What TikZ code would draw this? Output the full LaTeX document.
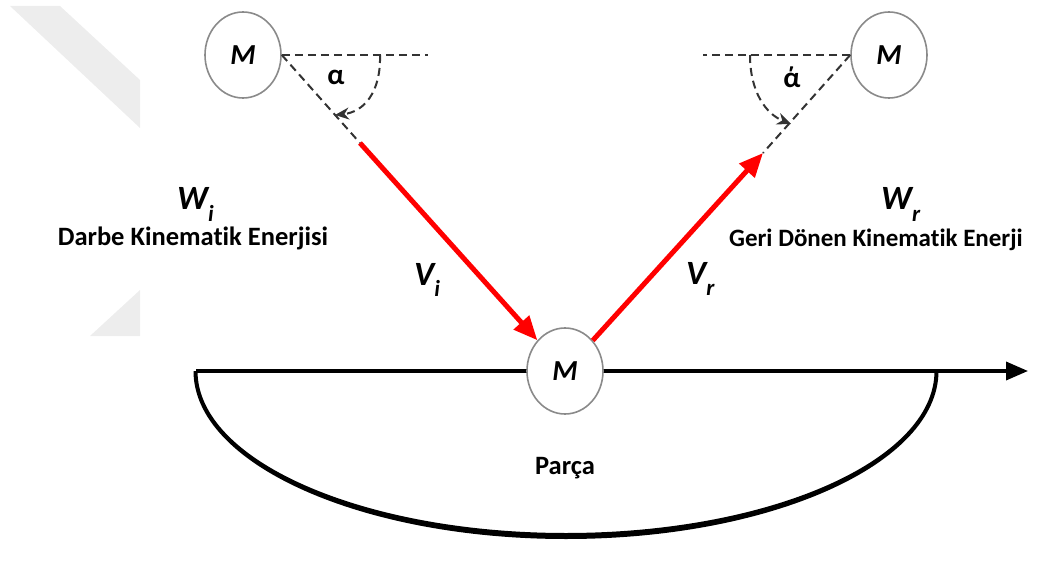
\documentclass[tikz,border=0pt]{standalone}
\usepackage{fontspec}
\setmainfont{Carlito}[Ligatures=NoCommon]
\usetikzlibrary{arrows.meta,shapes.geometric}
\definecolor{wm}{HTML}{EDEDED}
\definecolor{dashc}{HTML}{333333}
\definecolor{ringc}{HTML}{8A8A8A}
\tikzset{
  mass/.style={ellipse,draw=ringc,line width=1.6pt,fill=white,minimum width=76pt,minimum height=86pt,inner sep=0pt,
    font=\fontsize{29}{29}\selectfont\bfseries\itshape},
  guide/.style={draw=dashc,line width=2pt,dash pattern=on 8pt off 5pt},
  anglearr/.style={guide,-{Stealth[length=14pt,width=12pt]}},
  vel/.style={draw=red,line width=5pt,-{Triangle[length=24pt,width=20pt]}},
  axis/.style={draw=black,line width=3.5pt,-{Triangle[length=22pt,width=18pt]}},
  bowl/.style={fill=black},
  sym/.style={font=\fontsize{34}{34}\selectfont\bfseries\itshape,inner sep=0pt},
  lbl/.style={font=\fontsize{26.5}{28}\selectfont\bfseries,inner sep=0pt},
  ang/.style={font=\fontsize{29}{29}\selectfont\bfseries,inner sep=0pt}
}
\newcommand{\sbs}[1]{\raisebox{-0.35em}{\fontsize{23}{23}\selectfont #1}}
\begin{document}
\begin{tikzpicture}[x=1pt,y=-1pt]
\useasboundingbox (0,0) rectangle (1043,585);
% faint watermark
\fill[wm] (10,6) -- (60,6) -- (140,80) -- (140,128) -- cycle;
\fill[wm] (90,336) -- (140,290) -- (140,336) -- cycle;
% axis and bowl
\coordinate (axL) at (196,371);
\coordinate (axR) at (1028,371);
\draw[axis] (axL) -- (axR);
\fill[bowl] (193.5,371) arc[start angle=180,end angle=0,x radius=372.5,y radius=168]
  -- (934.5,371) arc[start angle=0,end angle=180,x radius=368.5,y radius=162] -- cycle;
% masses
\node[mass] (Ml) at (243,55) {M};
\node[mass] (Mr) at (889,55) {M};
\node[mass] (Mb) at (565,371) {M};
% guides
\coordinate (hL) at (428,55);
\coordinate (hR) at (703,55);
\coordinate (cL) at (360,143);
\coordinate (cR) at (763,153);
\draw[guide] (Ml.east) -- (hL);
\draw[guide] (Ml.east) -- (cL);
\draw[guide] (Mr.west) -- (hR);
\draw[guide] (Mr.west) -- (cR);
\coordinate (aL0) at (380,55);
\coordinate (aL1) at (335,115);
\coordinate (aR0) at (750,55);
\coordinate (aR1) at (791,124);
\draw[anglearr] (aL0) .. controls (381,92) and (364,112) .. (aL1);
\draw[anglearr] (aR0) .. controls (750,92) and (766,114) .. (aR1);
\node[ang] (alL) at (336,77) {α};
\node[ang] (alR) at (792,77) {ά};
% velocities
\draw[vel] (cL) -- (Mb);
\draw[vel] (Mb) -- (cR);
% labels
\node[sym,anchor=base west] (Wi) at (177,210) {W\sbs{i}};
\node[lbl,anchor=base] (Wit) at (193,246) {Darbe Kinematik Enerjisi};
\node[sym,anchor=base west] (Vi) at (414,285) {V\sbs{i}};
\node[sym,anchor=base west] (Vr) at (686,284) {V\sbs{r}};
\node[sym,anchor=base west] (Wr) at (881,210) {W\sbs{r}};
\node[lbl,anchor=base,font=\fontsize{25}{27}\selectfont\bfseries] (Wrt) at (876,247) {Geri Dönen Kinematik Enerji};
\node[lbl,anchor=base] (parca) at (565,474) {Parça};
\end{tikzpicture}
\end{document}
